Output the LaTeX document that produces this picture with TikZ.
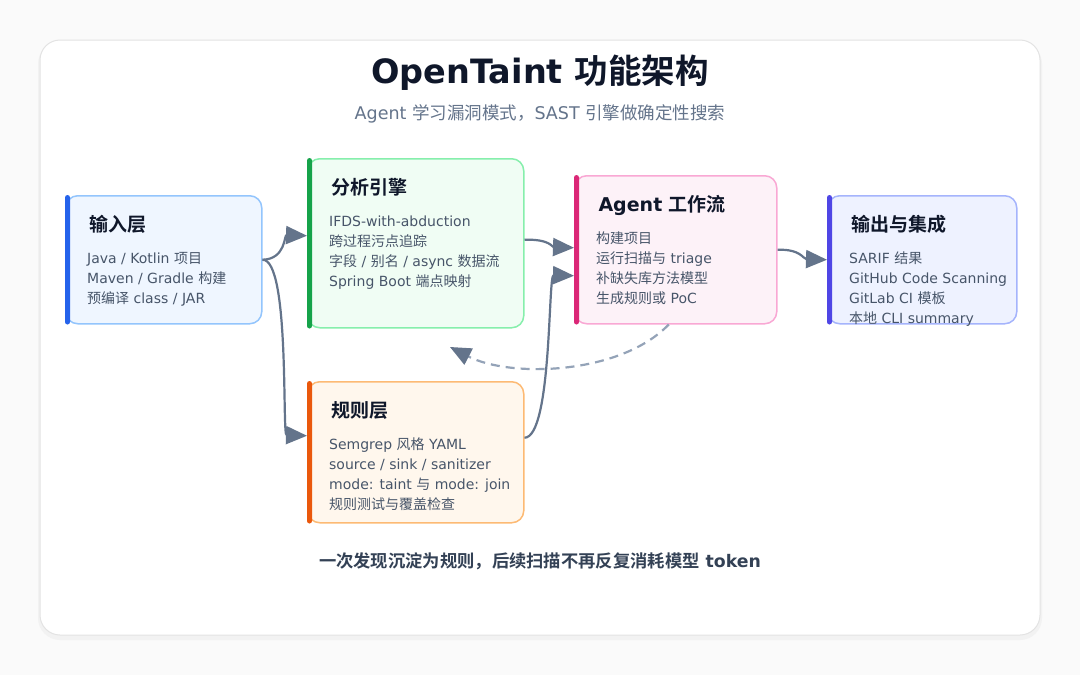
\documentclass[tikz,border=0pt]{standalone}
\usepackage{fontspec}
\setmainfont{DejaVu Sans}
\newfontfamily\cjkfont{Noto Sans CJK SC}[BoldFont={Noto Sans CJK SC Bold}]
\newXeTeXintercharclass\cjkcls
\count255="4E00 \loop\XeTeXcharclass\count255=\cjkcls\ifnum\count255<"9FFF\advance\count255 by 1\repeat
\count255="3000 \loop\XeTeXcharclass\count255=\cjkcls\ifnum\count255<"303F\advance\count255 by 1\repeat
\count255="FF00 \loop\XeTeXcharclass\count255=\cjkcls\ifnum\count255<"FFEF\advance\count255 by 1\repeat
\XeTeXinterchartoks 0 \cjkcls={\cjkfont}
\XeTeXinterchartoks 4095 \cjkcls={\cjkfont}
\XeTeXinterchartoks \cjkcls 0={\rmfamily}
\XeTeXinterchartoks \cjkcls 4095={\rmfamily}
\XeTeXinterchartokenstate=1
\usepackage{xcolor}
\usetikzlibrary{arrows.meta}

\definecolor{ink}{HTML}{0F172A}
\definecolor{slate}{HTML}{475569}
\definecolor{subc}{HTML}{64748B}
\definecolor{footc}{HTML}{334155}
\definecolor{arrowc}{HTML}{64748B}
\definecolor{dashc}{HTML}{94A3B8}
\definecolor{bluebg}{HTML}{EFF6FF}\definecolor{blueln}{HTML}{93C5FD}\definecolor{bluebar}{HTML}{2563EB}
\definecolor{greenbg}{HTML}{F0FDF4}\definecolor{greenln}{HTML}{86EFAC}\definecolor{greenbar}{HTML}{16A34A}
\definecolor{pinkbg}{HTML}{FDF2F8}\definecolor{pinkln}{HTML}{F9A8D4}\definecolor{pinkbar}{HTML}{DB2777}
\definecolor{indbg}{HTML}{EEF2FF}\definecolor{indln}{HTML}{A5B4FC}\definecolor{indbar}{HTML}{4F46E5}
\definecolor{orgbg}{HTML}{FFF7ED}\definecolor{orgln}{HTML}{FDBA74}\definecolor{orgbar}{HTML}{EA580C}

\begin{document}
\begin{tikzpicture}[x=1pt, y=-1pt, >={Triangle[length=21pt,width=18pt]},
  card/.style={draw=gray!22, fill=white, rounded corners=20pt, line width=1pt},
  box/.style={draw, rounded corners=12pt, line width=1.5pt, anchor=north west, inner sep=0pt},
  bar/.style={rounded corners=2.5pt},
  ttl/.style={anchor=base west, text=ink, font=\fontsize{19}{22}\selectfont\bfseries},
  body/.style={anchor=north west, inner sep=0pt, align=left, text=slate, font=\fontsize{14}{20}\selectfont},
  link/.style={->, draw=arrowc, line width=2.2pt}]
\useasboundingbox (0,0) rectangle (1080,675);
\fill[gray!4] (0,0) rectangle (1080,675);
\fill[black!5, rounded corners=22pt] (38,42) rectangle (1042,640);
\node[card, minimum width=1000pt, minimum height=595pt] (card) at (540,337.5) {};

\node[text=ink, font=\fontsize{33.5}{40}\selectfont\bfseries] (title) at (540,73) {OpenTaint 功能架构};
\node[text=subc, font=\fontsize{17.5}{20}\selectfont] (sub) at (540,114) {Agent 学习漏洞模式，SAST 引擎做确定性搜索};

\node[box, fill=bluebg, draw=blueln, minimum width=196pt, minimum height=128pt] (inp) at (65,195) {};
\fill[bluebar, bar] (inp.north west) rectangle ([xshift=5pt]inp.south west);
\node[ttl] (inp-t) at ([shift={(21,36)}]inp.north west) {输入层};
\node[body] (inp-b) at ([shift={(22,54)}]inp.north west) {\strut Java / Kotlin 项目\\Maven / Gradle 构建\\预编译 class / JAR};

\node[box, fill=greenbg, draw=greenln, minimum width=216pt, minimum height=169pt] (ana) at (307,158) {};
\fill[greenbar, bar] (ana.north west) rectangle ([xshift=5pt]ana.south west);
\node[ttl] (ana-t) at ([shift={(21,36)}]ana.north west) {分析引擎};
\node[body] (ana-b) at ([shift={(22,54)}]ana.north west) {\strut IFDS-with-abduction\\跨过程污点追踪\\字段 / 别名 / async 数据流\\Spring Boot 端点映射};

\node[box, fill=pinkbg, draw=pinkln, minimum width=202pt, minimum height=148pt] (agt) at (574,175) {};
\fill[pinkbar, bar] (agt.north west) rectangle ([xshift=5pt]agt.south west);
\node[ttl] (agt-t) at ([shift={(21,36)}]agt.north west) {Agent 工作流};
\node[body] (agt-b) at ([shift={(22,54)}]agt.north west) {\strut 构建项目\\运行扫描与 triage\\补缺失库方法模型\\生成规则或 PoC};

\node[box, fill=indbg, draw=indln, minimum width=189pt, minimum height=128pt] (outp) at (827,195) {};
\fill[indbar, bar] (outp.north west) rectangle ([xshift=5pt]outp.south west);
\node[ttl] (outp-t) at ([shift={(21,36)}]outp.north west) {输出与集成};
\node[body] (outp-b) at ([shift={(22,54)}]outp.north west) {\strut SARIF 结果\\GitHub Code Scanning\\GitLab CI 模板\\本地 CLI summary};

\node[box, fill=orgbg, draw=orgln, minimum width=216pt, minimum height=141pt] (rule) at (307,381) {};
\fill[orgbar, bar] (rule.north west) rectangle ([xshift=5pt]rule.south west);
\node[ttl] (rule-t) at ([shift={(21,36)}]rule.north west) {规则层};
\node[body] (rule-b) at ([shift={(22,54)}]rule.north west) {\strut Semgrep 风格 YAML\\source / sink / sanitizer\\mode: taint 与 mode: join\\规则测试与覆盖检查};

\node[text=footc, font=\fontsize{17.3}{20}\selectfont\bfseries] (foot) at (540,561) {一次发现沉淀为规则，后续扫描不再反复消耗模型 token};

\coordinate (back) at (450,347);
\draw[link] (inp.east) .. controls (286,259) and (284,235) .. ([yshift=7.5pt]ana.west);
\draw[link] (inp.east) .. controls (290,259) and (282,435) .. ([yshift=16.5pt]rule.west);
\draw[link] ([yshift=3.5pt]ana.east) .. controls (550,239) and (552,247) .. ([yshift=2pt]agt.west);
\draw[link] ([yshift=14.5pt]rule.east) .. controls (552,437) and (548,275) .. ([yshift=-26pt]agt.west);
\draw[link] (agt.east) .. controls (801,249) and (803,259) .. (outp.west);
\draw[link, draw=dashc, dash pattern=on 9pt off 6pt, -{Triangle[length=21pt,width=18pt,color=arrowc]}]
  ([xshift=-7pt]agt.south) .. controls (620,375) and (510,378) .. (back);
\end{tikzpicture}
\end{document}
